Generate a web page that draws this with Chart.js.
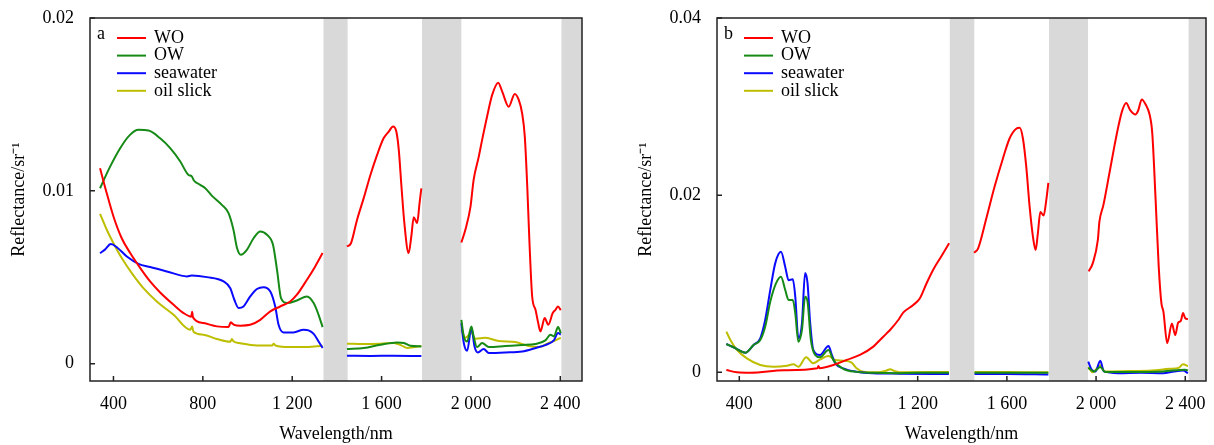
<!DOCTYPE html>
<html>
<head>
<meta charset="utf-8">
<script src="https://cdn.jsdelivr.net/npm/chart.js@4.4.0/dist/chart.umd.min.js"></script>
<style>
  html, body { margin: 0; padding: 0; background: #fff; }
  #wrap { position: relative; width: 1214px; height: 445px; }
  canvas { position: absolute; top: 0; }
  #grafA { left: 0; }
  #grafB { left: 627px; }
</style>
</head>
<body>
<div id="wrap">
  <canvas id="grafA" width="607" height="445"></canvas>
  <canvas id="grafB" width="587" height="445"></canvas>
</div>
<script>
// Ejes
const xTicks = [400, 800, 1200, 1600, 2000, 2400];
const xTickLabels = ['400', '800', '1 200', '1 600', '2 000', '2 400'];
const yTicksA = [0, 0.01, 0.02];
const yTickLabelsA = ['0', '0.01', '0.02'];
const yTicksB = [0, 0.02, 0.04];
const yTickLabelsB = ['0', '0.02', '0.04'];
const seriesNames = ['WO', 'OW', 'seawater', 'oil slick'];
// bandas de absorcion (nm)
const bandsA = [[1340, 1448], [1781, 1957], [2405, 2600]];
const bandsB = [[1344, 1454], [1789, 1964], [2415, 2600]];

// Panel a
const aWoNm = [340,370,400,437,475,520,564,609,669,714,748,752,756,803,863,915,925,930,940,968,1012,1057,1102,1146,1191,1221,1266,1303,1336,1400,1445,1463,1490,1520,1550,1580,1609,1632,1651,1666,1677,1689,1702,1721,1733,1744,1759,1770,1778,1870,1957,1975,1998,2012,2035,2050,2072,2095,2122,2140,2169,2196,2214,2229,2241,2252,2262,2274,2289,2301,2311,2330,2346,2366,2378,2390,2402];
const aWo = [0.01131,0.00986,0.00852,0.00726,0.00640,0.00553,0.00476,0.00412,0.00341,0.00293,0.00272,0.00300,0.00268,0.00235,0.00216,0.00212,0.00240,0.00235,0.00225,0.00220,0.00225,0.00254,0.00303,0.00331,0.00360,0.00399,0.00486,0.00563,0.00640,null,0.00678,0.00697,0.00832,0.00958,0.01092,0.01208,0.01304,0.01343,0.01372,0.01343,0.01237,0.01025,0.00813,0.00640,0.00736,0.00848,0.00813,0.00929,0.01015,null,0.00701,0.00775,0.00909,0.01064,0.01198,0.01295,0.01429,0.01555,0.01626,0.01574,0.01487,0.01561,0.01526,0.01449,0.01314,0.01025,0.00697,0.00389,0.00312,0.00235,0.00187,0.00264,0.00225,0.00293,0.00312,0.00331,0.00310];

const aOwNm = [340,385,430,474,512,557,609,654,699,736,750,760,788,811,841,885,915,937,953,970,997,1027,1057,1087,1114,1132,1150,1177,1221,1266,1296,1318,1336,1400,1445,1520,1595,1670,1700,1730,1778,1870,1957,1968,1983,2002,2012,2027,2050,2080,2154,2229,2289,2333,2356,2371,2390,2402];
const aOw = [0.01015,0.01140,0.01247,0.01324,0.01353,0.01349,0.01304,0.01247,0.01170,0.01092,0.01085,0.01060,0.01035,0.01015,0.00971,0.00919,0.00871,0.00775,0.00669,0.00630,0.00659,0.00726,0.00765,0.00746,0.00688,0.00543,0.00380,0.00351,0.00366,0.00389,0.00351,0.00283,0.00212,null,0.00085,0.00091,0.00110,0.00123,0.00120,0.00104,0.00100,null,0.00254,0.00158,0.00129,0.00216,0.00158,0.00096,0.00120,0.00096,0.00102,0.00108,0.00114,0.00135,0.00168,0.00158,0.00212,0.00177];

const aSwNm = [340,362,388,415,460,512,564,639,729,750,818,893,923,941,960,982,1012,1042,1072,1102,1124,1139,1161,1206,1251,1273,1296,1318,1336,1400,1445,1550,1650,1778,1870,1957,1968,1983,2002,2016,2031,2057,2080,2154,2229,2289,2333,2371,2390,2402];
const aSw = [0.00640,0.00660,0.00692,0.00674,0.00620,0.00578,0.00559,0.00534,0.00505,0.00510,0.00501,0.00476,0.00437,0.00370,0.00322,0.00331,0.00389,0.00432,0.00443,0.00418,0.00331,0.00225,0.00181,0.00181,0.00197,0.00193,0.00173,0.00129,0.00091,null,0.00046,0.00045,0.00046,0.00044,null,0.00235,0.00120,0.00075,0.00206,0.00100,0.00065,0.00085,0.00062,0.00065,0.00071,0.00091,0.00108,0.00135,0.00177,0.00168];

const aOsNm = [340,370,400,437,482,534,594,669,744,752,758,803,863,923,930,937,968,1042,1110,1117,1125,1191,1266,1336,1400,1445,1520,1595,1655,1690,1715,1778,1870,1957,1975,2002,2020,2065,2125,2199,2259,2304,2348,2378,2402];
const aOs = [0.00867,0.00775,0.00697,0.00611,0.00524,0.00437,0.00360,0.00283,0.00197,0.00215,0.00185,0.00168,0.00143,0.00127,0.00143,0.00130,0.00119,0.00106,0.00106,0.00115,0.00105,0.00096,0.00096,0.00104,null,0.00116,0.00114,0.00116,0.00120,0.00105,0.00091,0.00102,null,0.00197,0.00150,0.00177,0.00145,0.00150,0.00131,0.00125,0.00102,0.00096,0.00120,0.00135,0.00150];

// Panel b
const bWoNm = [342,390,450,600,750,755,760,822,882,941,1001,1031,1061,1076,1113,1135,1180,1210,1240,1269,1307,1341,1400,1453,1471,1508,1545,1583,1612,1642,1657,1672,1687,1702,1717,1729,1739,1750,1765,1777,1786,1880,1967,1985,2008,2015,2033,2060,2082,2102,2118,2135,2153,2176,2188,2205,2223,2240,2252,2267,2281,2293,2302,2319,2340,2355,2368,2380,2390,2400,2412];
const bWo = [0.00026,0.00000,-0.00005,0.00022,0.00045,0.00070,0.00047,0.00083,0.00140,0.00196,0.00290,0.00365,0.00440,0.00478,0.00591,0.00674,0.00760,0.00836,0.01006,0.01156,0.01314,0.01458,null,0.01350,0.01400,0.01740,0.02097,0.02420,0.02640,0.02750,0.02760,0.02640,0.02320,0.01870,0.01530,0.01380,0.01570,0.01810,0.01770,0.01950,0.02140,null,0.01140,0.01230,0.01495,0.01700,0.01890,0.02250,0.02550,0.02800,0.02960,0.03040,0.02960,0.02910,0.02950,0.03080,0.03020,0.02910,0.02700,0.01950,0.01190,0.00780,0.00685,0.00330,0.00550,0.00420,0.00560,0.00580,0.00670,0.00610,0.00600];

const bOwNm = [342,374,427,464,494,516,539,565,587,606,621,640,651,665,681,695,706,721,740,762,800,822,866,926,1000,1100,1200,1340,1400,1455,1600,1786,1880,1965,1990,2019,2040,2200,2300,2400,2412];
const bOw = [0.00320,0.00283,0.00222,0.00309,0.00366,0.00515,0.00798,0.01006,0.01080,0.00930,0.00817,0.00817,0.00667,0.00346,0.00478,0.00854,0.00798,0.00365,0.00196,0.00170,0.00252,0.00136,0.00040,0.00005,-0.00005,-0.00010,-0.00005,-0.00005,null,-0.00005,-0.00005,-0.00005,null,0.00050,0.00010,0.00060,0.00005,0.00005,0.00010,0.00030,0.00020];

const bSwNm = [342,374,427,464,494,516,539,561,587,606,621,640,651,665,681,695,706,718,732,762,800,815,830,866,926,1000,1120,1340,1400,1455,1600,1786,1880,1965,1980,1997,2019,2035,2100,2200,2300,2350,2390,2412];
const bSw = [0.00320,0.00283,0.00222,0.00309,0.00384,0.00591,0.00930,0.01230,0.01360,0.01190,0.01040,0.01050,0.00855,0.00384,0.00554,0.01120,0.01006,0.00554,0.00252,0.00196,0.00297,0.00196,0.00102,0.00045,0.00007,-0.00010,-0.00015,-0.00020,null,-0.00020,-0.00020,-0.00025,null,0.00120,0.00030,0.00010,0.00130,0.00010,-0.00010,-0.00005,-0.00010,0.00010,0.00020,-0.00010];

const bOsNm = [342,360,390,434,494,554,614,643,665,700,732,759,800,830,866,904,926,956,1016,1060,1076,1095,1120,1340,1400,1455,1600,1786,1880,1965,1985,2019,2040,2150,2250,2330,2370,2390,2412];
const bOs = [0.00459,0.00365,0.00252,0.00158,0.00083,0.00064,0.00075,0.00090,0.00064,0.00170,0.00102,0.00140,0.00184,0.00140,0.00132,0.00110,0.00045,0.00007,0.00000,0.00020,0.00034,0.00015,0.00000,0.00005,null,0.00005,0.00005,0.00000,null,0.00060,0.00000,0.00080,0.00010,0.00015,0.00020,0.00040,0.00050,0.00090,0.00070];

const colores = ['#ff0000', '#168a16', '#0a0aff', '#bebe00'];
const fuente = { family: 'Liberation Serif', size: 18 };

function toPoints(nm, vals) {
  return nm.map((x, i) => ({ x: x, y: vals[i] }));
}

function makeDatasets(pairs) {
  return pairs.map((p, i) => ({
    label: seriesNames[i],
    data: toPoints(p[0], p[1]),
    borderColor: colores[i],
    borderWidth: 2,
    pointRadius: 0,
    cubicInterpolationMode: 'monotone',
    spanGaps: false,
    fill: false
  }));
}

// Bandas grises, marco, ticks hacia dentro, leyenda
const decor = {
  id: 'decor',
  beforeDatasetsDraw(chart, args, opts) {
    const ctx = chart.ctx;
    const ca = chart.chartArea;
    const x = chart.scales.x;
    ctx.save();
    ctx.fillStyle = '#d9d9d9';
    opts.bands.forEach(b => {
      const x0 = Math.max(ca.left, x.getPixelForValue(b[0]));
      const x1 = Math.min(ca.right, x.getPixelForValue(b[1]));
      ctx.fillRect(x0, ca.top, x1 - x0, ca.bottom - ca.top);
    });
    ctx.restore();
  },
  afterDraw(chart, args, opts) {
    const ctx = chart.ctx;
    const ca = chart.chartArea;
    const x = chart.scales.x;
    const y = chart.scales.y;
    ctx.save();
    ctx.strokeStyle = '#222';
    ctx.lineWidth = 1.5;
    ctx.strokeRect(ca.left, ca.top, ca.right - ca.left, ca.bottom - ca.top);
    ctx.beginPath();
    x.ticks.forEach(t => {
      const px = x.getPixelForValue(t.value);
      ctx.moveTo(px, ca.bottom);
      ctx.lineTo(px, ca.bottom - 5);
    });
    y.ticks.forEach(t => {
      const py = y.getPixelForValue(t.value);
      ctx.moveTo(ca.left, py);
      ctx.lineTo(ca.left + 5, py);
    });
    ctx.stroke();

    ctx.fillStyle = '#000';
    ctx.font = '18px "Liberation Serif"';
    ctx.textBaseline = 'alphabetic';
    ctx.textAlign = 'left';
    ctx.fillText(opts.panel, ca.left + 7, ca.top + 20.5);

    ctx.textBaseline = 'middle';
    chart.data.datasets.forEach((ds, i) => {
      const ry = ca.top + 20 + i * 17.6;
      ctx.strokeStyle = ds.borderColor;
      ctx.lineWidth = 2;
      ctx.beginPath();
      ctx.moveTo(ca.left + 27, ry);
      ctx.lineTo(ca.left + 56, ry);
      ctx.stroke();
      ctx.fillText(ds.label, ca.left + 64, ry);
    });
    ctx.restore();
  }
};

function buildChart(id, datasets, xr, yr, yTicks, yLabels, pad, bands, panel) {
  const cv = document.getElementById(id).getContext('2d');
  return new Chart(cv, {
    type: 'line',
    data: { datasets: datasets },
    plugins: [decor],
    options: {
      responsive: false,
      maintainAspectRatio: false,
      animation: false,
      layout: { padding: pad },
      plugins: {
        legend: { display: false },
        tooltip: { enabled: false },
        decor: { bands: bands, panel: panel }
      },
      scales: {
        x: {
          type: 'linear',
          min: xr[0],
          max: xr[1],
          afterBuildTicks: s => { s.ticks = xTicks.map(v => ({ value: v })); },
          afterFit: s => { s.height = 64; s.paddingLeft = 0; s.paddingRight = 0; },
          ticks: {
            callback: (v, i) => xTickLabels[i],
            font: fuente,
            color: '#000',
            padding: 12,
            maxRotation: 0,
            autoSkip: false
          },
          grid: { display: false, drawTicks: false },
          border: { display: false },
          title: { display: true, text: 'Wavelength/nm', font: fuente, color: '#000', padding: { top: 0, bottom: 0 } }
        },
        y: {
          type: 'linear',
          min: yr[0],
          max: yr[1],
          afterBuildTicks: s => { s.ticks = yTicks.map(v => ({ value: v })); },
          afterFit: s => { s.width = 90; s.paddingTop = 0; s.paddingBottom = 0; },
          ticks: {
            callback: (v, i) => yLabels[i],
            font: fuente,
            color: '#000',
            padding: 16
          },
          grid: { display: false, drawTicks: false },
          border: { display: false },
          title: { display: true, text: 'Reflectance/sr\u207B\u00B9', font: fuente, color: '#000', padding: { top: 8, bottom: 0 } }
        }
      }
    }
  });
}

const dsA = makeDatasets([[aWoNm, aWo], [aOwNm, aOw], [aSwNm, aSw], [aOsNm, aOs]]);
const dsB = makeDatasets([[bWoNm, bWo], [bOwNm, bOw], [bSwNm, bSw], [bOsNm, bOs]]);

buildChart('grafA', dsA, [295, 2497], [-0.001, 0.02], yTicksA, yTickLabelsA,
  { left: 0, top: 18, right: 25, bottom: 0 }, bandsA, 'a');
buildChart('grafB', dsB, [300, 2493], [-0.00098, 0.04], yTicksB, yTickLabelsB,
  { left: 0, top: 18, right: 8, bottom: 0 }, bandsB, 'b');
</script>
</body>
</html>
